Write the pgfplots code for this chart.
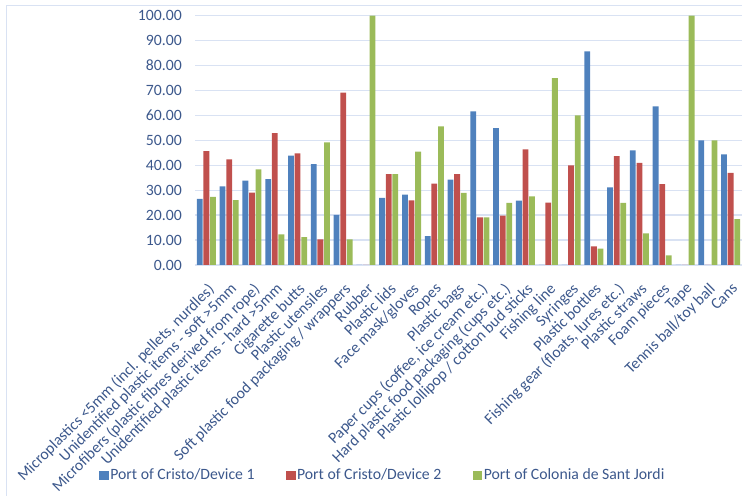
\documentclass[border=0pt]{standalone}
\usepackage{fontspec}
\setmainfont{Carlito}
\usepackage{pgfplots}
\usepackage{pgfplotstable}
\pgfplotsset{compat=1.18}
\definecolor{cblue}{RGB}{79,129,189}
\definecolor{cred}{RGB}{192,80,77}
\definecolor{cgreen}{RGB}{155,187,89}
\definecolor{txt}{RGB}{60,88,140}
\definecolor{gridc}{RGB}{217,226,243}
\pgfplotstableread{
x a b c
0 26.5 45.7 27.3
1 31.5 42.4 26.0
2 33.8 29.0 38.4
3 34.4 52.9 12.3
4 43.9 44.8 11.2
5 40.5 10.3 49.2
6 20.1 69.1 10.3
7 0 0 100
8 26.9 36.4 36.4
9 28.2 25.9 45.5
10 11.6 32.6 55.6
11 34.2 36.4 28.9
12 61.6 19.1 19.1
13 54.9 19.8 24.9
14 25.8 46.4 27.5
15 0 25.0 75.0
16 0 40.0 60.0
17 85.7 7.5 6.6
18 31.1 43.7 24.9
19 46.0 41.0 12.7
20 63.6 32.4 3.9
21 0 0 100
22 50.0 0 50.0
23 44.4 37.0 18.4
}\datatab
\newcommand{\lf}{\fontsize{15.8}{18}\selectfont}
\begin{document}
\begin{tikzpicture}[x=1bp,y=1bp]
\useasboundingbox (0,0) rectangle (742,496);
\draw[gridc, line width=1.3bp] (6.5,0) -- (6.5,490.7) -- (742,490.7);
\begin{axis}[
  at={(195bp,231bp)}, anchor=south west,
  scale only axis, width=547bp, height=249.3bp,
  ymin=0, ymax=100, xmin=-0.5, xmax=23.5,
  ybar=0.8bp, bar width=5.8bp,
  axis line style={draw=none},
  major tick length=0pt,
  ytick={0,10,...,100},
  xtick={0,...,23},
  xticklabels={
    {Microplastics <5mm (incl. pellets, nurdles)},
    {Unidentified plastic items - soft >5mm},
    {Microfibers (plastic fibres derived from rope)},
    {Unidentified plastic items - hard >5mm},
    {Cigarette butts},
    {Plastic utensiles},
    {Soft plastic food packaging / wrappers},
    {Rubber},
    {Plastic lids},
    {Face mask/gloves},
    {Ropes},
    {Plastic bags},
    {Paper cups (coffee, ice cream etc.)},
    {Hard plastic food packaging (cups etc.)},
    {Plastic lollipop / cotton bud sticks},
    {Fishing line},
    {Syringes},
    {Plastic bottles},
    {Fishing gear (floats, lures etc.)},
    {Plastic straws},
    {Foam pieces},
    {Tape},
    {Tennis ball/toy ball},
    {Cans}},
  tick label style={font=\lf, text=txt},
  yticklabel style={/pgf/number format/.cd, fixed, fixed zerofill, precision=2, assume math mode=true, /tikz/.cd, anchor=east, inner sep=0pt, xshift=-13bp},
  xticklabel style={yshift=-17bp, xshift=0.5bp, rotate=45, anchor=north east, inner sep=0pt},
  ymajorgrids, grid style={gridc, line width=1.3bp},
  legend columns=-1,
  legend style={draw=none, fill=none, at={(0.343,-0.843)}, anchor=center, font=\lf, text=txt,
    nodes={inner xsep=1.5bp, inner ysep=1bp},
    /tikz/every even column/.append style={column sep=30bp}},
  legend image code/.code={\fill[#1] (0bp,-4.5bp) rectangle (9.5bp,4.5bp);},
]
\addplot[fill=cblue, draw=none] table[x=x, y=a] {\datatab};
\addplot[fill=cred, draw=none] table[x=x, y=b] {\datatab};
\addplot[fill=cgreen, draw=none] table[x=x, y=c] {\datatab};
\legend{Port of Cristo/Device 1, Port of Cristo/Device 2, Port of Colonia de Sant Jordi}
\end{axis}
\end{tikzpicture}
\end{document}
